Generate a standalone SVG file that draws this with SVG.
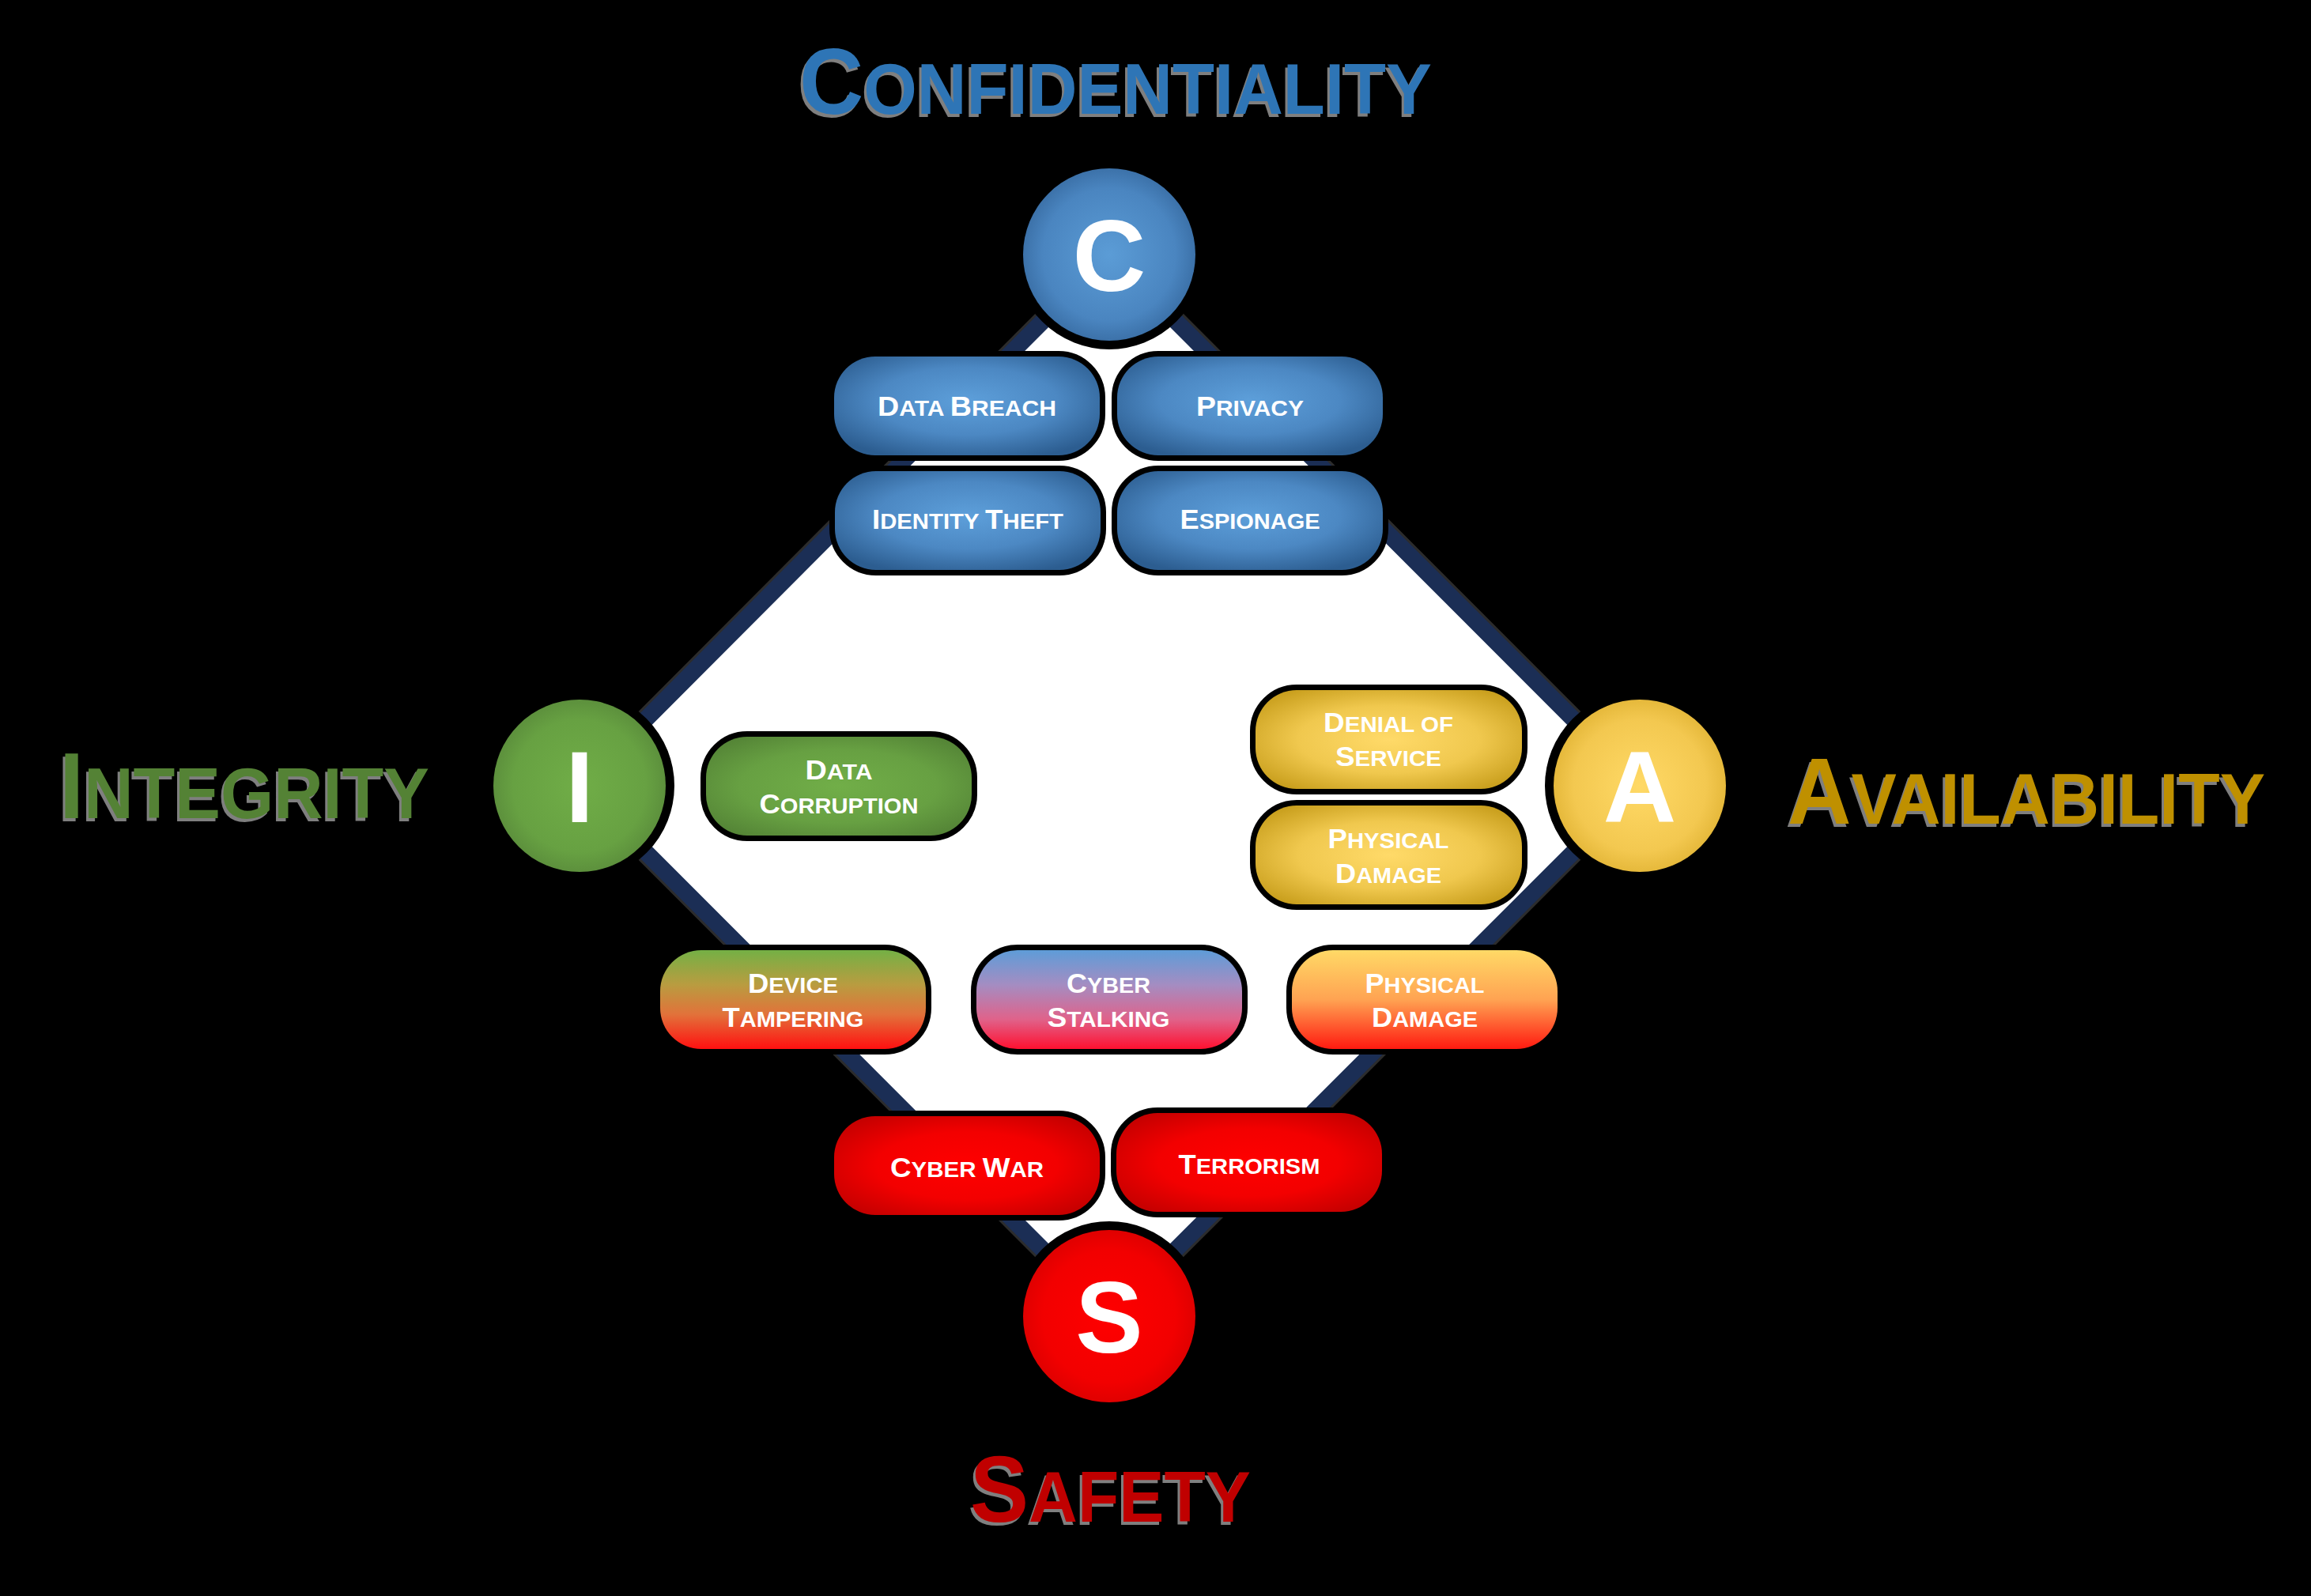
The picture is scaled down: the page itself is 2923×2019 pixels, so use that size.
<svg xmlns="http://www.w3.org/2000/svg" width="2923" height="2019" viewBox="0 0 2923 2019">
<defs>
  <radialGradient id="gBlue" cx="0.5" cy="0.45" r="0.62">
    <stop offset="0" stop-color="#5d9fda"/>
    <stop offset="0.55" stop-color="#4c88c3"/>
    <stop offset="1" stop-color="#2c5d90"/>
  </radialGradient>
  <radialGradient id="gBlueC" cx="0.5" cy="0.5" r="0.55">
    <stop offset="0" stop-color="#5b9cd6"/>
    <stop offset="0.7" stop-color="#4a85c0"/>
    <stop offset="1" stop-color="#36699f"/>
  </radialGradient>
  <radialGradient id="gGreen" cx="0.5" cy="0.5" r="0.62">
    <stop offset="0" stop-color="#71ae48"/>
    <stop offset="0.6" stop-color="#67a042"/>
    <stop offset="1" stop-color="#548436"/>
  </radialGradient>
  <radialGradient id="gGreenC" cx="0.5" cy="0.5" r="0.55">
    <stop offset="0" stop-color="#70ad47"/>
    <stop offset="0.7" stop-color="#67a142"/>
    <stop offset="1" stop-color="#58893a"/>
  </radialGradient>
  <radialGradient id="gGold" cx="0.5" cy="0.5" r="0.62">
    <stop offset="0" stop-color="#ffda69"/>
    <stop offset="0.55" stop-color="#f0c84e"/>
    <stop offset="1" stop-color="#c89e1c"/>
  </radialGradient>
  <radialGradient id="gGoldC" cx="0.5" cy="0.5" r="0.55">
    <stop offset="0" stop-color="#ffd966"/>
    <stop offset="0.7" stop-color="#f3c850"/>
    <stop offset="1" stop-color="#e0b232"/>
  </radialGradient>
  <radialGradient id="gRed" cx="0.5" cy="0.5" r="0.62">
    <stop offset="0" stop-color="#ff0000"/>
    <stop offset="0.55" stop-color="#f30000"/>
    <stop offset="1" stop-color="#c40000"/>
  </radialGradient>
  <radialGradient id="gRedC" cx="0.5" cy="0.5" r="0.55">
    <stop offset="0" stop-color="#ff0000"/>
    <stop offset="0.7" stop-color="#f20000"/>
    <stop offset="1" stop-color="#d80000"/>
  </radialGradient>
  <linearGradient id="gDevice" x1="0" y1="0" x2="0" y2="1">
    <stop offset="0" stop-color="#74b045"/>
    <stop offset="0.35" stop-color="#b99c40"/>
    <stop offset="0.65" stop-color="#e2723a"/>
    <stop offset="1" stop-color="#ff1010"/>
  </linearGradient>
  <linearGradient id="gStalk" x1="0" y1="0" x2="0" y2="1">
    <stop offset="0" stop-color="#5e9cd8"/>
    <stop offset="0.35" stop-color="#a48dc2"/>
    <stop offset="0.7" stop-color="#e0628a"/>
    <stop offset="1" stop-color="#ff1030"/>
  </linearGradient>
  <linearGradient id="gPhys" x1="0" y1="0" x2="0" y2="1">
    <stop offset="0" stop-color="#ffd966"/>
    <stop offset="0.5" stop-color="#ffa352"/>
    <stop offset="1" stop-color="#ff1a10"/>
  </linearGradient>
  <style>
    text { font-family: "Liberation Sans", Arial, sans-serif; font-weight: bold; }
    .pill { stroke: #000; stroke-width: 14; paint-order: stroke; }
    .ring { stroke: #000; stroke-width: 22; paint-order: stroke; }
    .lbl { fill: #fff; text-anchor: middle; }
    .b { font-size: 35px; }
    .s { font-size: 28px; }
    .letter { fill: #fff; font-size: 128px; text-anchor: middle; }
    .tb { font-size: 118px; }
    .ts { font-size: 91px; }
    .shadow { fill: #7f7f7f; }
  </style>
</defs>

<rect x="0" y="0" width="2923" height="2019" fill="#000"/>

<g id="connectors">
  <polygon points="1403,322 2074,994 1403,1665 733,994" fill="none" stroke="#2c2c2c" stroke-width="27"/>
  <polygon points="1403,322 2074,994 1403,1665 733,994" fill="#fff" stroke="#1b2e55" stroke-width="21"/>
</g>

<g id="title-confidentiality">
  <text class="shadow" x="1008" y="148" textLength="800" lengthAdjust="spacingAndGlyphs"><tspan class="tb">C</tspan><tspan class="ts">ONFIDENTIALITY</tspan></text>
  <text x="1011" y="144" fill="#2e75b6" textLength="800" lengthAdjust="spacingAndGlyphs"><tspan class="tb">C</tspan><tspan class="ts">ONFIDENTIALITY</tspan></text>
</g>
<g id="title-integrity">
  <text class="shadow" x="72" y="1039" textLength="468" lengthAdjust="spacingAndGlyphs"><tspan class="tb">I</tspan><tspan class="ts">NTEGRITY</tspan></text>
  <text x="75" y="1035" fill="#548235" textLength="468" lengthAdjust="spacingAndGlyphs"><tspan class="tb">I</tspan><tspan class="ts">NTEGRITY</tspan></text>
</g>
<g id="title-availability">
  <text class="shadow" x="2258" y="1046" textLength="604" lengthAdjust="spacingAndGlyphs"><tspan class="tb">A</tspan><tspan class="ts">VAILABILITY</tspan></text>
  <text x="2261" y="1042" fill="#bf9000" textLength="604" lengthAdjust="spacingAndGlyphs"><tspan class="tb">A</tspan><tspan class="ts">VAILABILITY</tspan></text>
</g>
<g id="title-safety">
  <text class="shadow" x="1224" y="1929" textLength="355" lengthAdjust="spacingAndGlyphs"><tspan class="tb">S</tspan><tspan class="ts">AFETY</tspan></text>
  <text x="1227" y="1925" fill="#c00000" textLength="355" lengthAdjust="spacingAndGlyphs"><tspan class="tb">S</tspan><tspan class="ts">AFETY</tspan></text>
</g>

<g id="node-c">
  <circle class="ring" cx="1403" cy="322" r="109" fill="url(#gBlueC)"/>
  <text class="letter" x="1403" y="368">C</text>
</g>
<g id="node-i">
  <circle class="ring" cx="733" cy="994" r="109" fill="url(#gGreenC)"/>
  <text class="letter" x="733" y="1040">I</text>
</g>
<g id="node-a">
  <circle class="ring" cx="2074" cy="994" r="109" fill="url(#gGoldC)"/>
  <text class="letter" x="2074" y="1040">A</text>
</g>
<g id="node-s">
  <circle class="ring" cx="1403" cy="1665" r="109" fill="url(#gRedC)"/>
  <text class="letter" x="1403" y="1711">S</text>
</g>

<g id="data-breach">
  <rect class="pill" x="1055" y="451" width="336" height="125" rx="52" fill="url(#gBlue)"/>
  <text class="lbl" x="1223" y="526" textLength="226" lengthAdjust="spacingAndGlyphs"><tspan class="b">D</tspan><tspan class="s">ATA </tspan><tspan class="b">B</tspan><tspan class="s">REACH</tspan></text>
</g>
<g id="privacy">
  <rect class="pill" x="1413" y="451" width="336" height="125" rx="52" fill="url(#gBlue)"/>
  <text class="lbl" x="1581" y="526" textLength="136" lengthAdjust="spacingAndGlyphs"><tspan class="b">P</tspan><tspan class="s">RIVACY</tspan></text>
</g>
<g id="identity-theft">
  <rect class="pill" x="1056" y="596" width="336" height="125" rx="52" fill="url(#gBlue)"/>
  <text class="lbl" x="1224" y="669" textLength="242" lengthAdjust="spacingAndGlyphs"><tspan class="b">I</tspan><tspan class="s">DENTITY </tspan><tspan class="b">T</tspan><tspan class="s">HEFT</tspan></text>
</g>
<g id="espionage">
  <rect class="pill" x="1413" y="596" width="336" height="125" rx="52" fill="url(#gBlue)"/>
  <text class="lbl" x="1581" y="669" textLength="177" lengthAdjust="spacingAndGlyphs"><tspan class="b">E</tspan><tspan class="s">SPIONAGE</tspan></text>
</g>

<g id="data-corruption">
  <rect class="pill" x="893" y="932" width="336" height="125" rx="52" fill="url(#gGreen)"/>
  <text class="lbl" x="1061" y="986" textLength="85" lengthAdjust="spacingAndGlyphs"><tspan class="b">D</tspan><tspan class="s">ATA</tspan></text>
  <text class="lbl" x="1061" y="1029" textLength="201" lengthAdjust="spacingAndGlyphs"><tspan class="b">C</tspan><tspan class="s">ORRUPTION</tspan></text>
</g>

<g id="denial-of-service">
  <rect class="pill" x="1588" y="873" width="337" height="125" rx="52" fill="url(#gGold)"/>
  <text class="lbl" x="1756" y="926" textLength="164" lengthAdjust="spacingAndGlyphs"><tspan class="b">D</tspan><tspan class="s">ENIAL OF</tspan></text>
  <text class="lbl" x="1756" y="969" textLength="134" lengthAdjust="spacingAndGlyphs"><tspan class="b">S</tspan><tspan class="s">ERVICE</tspan></text>
</g>
<g id="physical-damage-a">
  <rect class="pill" x="1588" y="1019" width="337" height="125" rx="52" fill="url(#gGold)"/>
  <text class="lbl" x="1756" y="1073" textLength="153" lengthAdjust="spacingAndGlyphs"><tspan class="b">P</tspan><tspan class="s">HYSICAL</tspan></text>
  <text class="lbl" x="1756" y="1117" textLength="134" lengthAdjust="spacingAndGlyphs"><tspan class="b">D</tspan><tspan class="s">AMAGE</tspan></text>
</g>

<g id="device-tampering">
  <rect class="pill" x="835" y="1202" width="336" height="125" rx="52" fill="url(#gDevice)"/>
  <text class="lbl" x="1003" y="1256" textLength="114" lengthAdjust="spacingAndGlyphs"><tspan class="b">D</tspan><tspan class="s">EVICE</tspan></text>
  <text class="lbl" x="1003" y="1299" textLength="179" lengthAdjust="spacingAndGlyphs"><tspan class="b">T</tspan><tspan class="s">AMPERING</tspan></text>
</g>
<g id="cyber-stalking">
  <rect class="pill" x="1235" y="1202" width="336" height="125" rx="52" fill="url(#gStalk)"/>
  <text class="lbl" x="1402" y="1256" textLength="106" lengthAdjust="spacingAndGlyphs"><tspan class="b">C</tspan><tspan class="s">YBER</tspan></text>
  <text class="lbl" x="1402" y="1299" textLength="155" lengthAdjust="spacingAndGlyphs"><tspan class="b">S</tspan><tspan class="s">TALKING</tspan></text>
</g>
<g id="physical-damage-s">
  <rect class="pill" x="1634" y="1202" width="336" height="125" rx="52" fill="url(#gPhys)"/>
  <text class="lbl" x="1802" y="1256" textLength="151" lengthAdjust="spacingAndGlyphs"><tspan class="b">P</tspan><tspan class="s">HYSICAL</tspan></text>
  <text class="lbl" x="1802" y="1299" textLength="134" lengthAdjust="spacingAndGlyphs"><tspan class="b">D</tspan><tspan class="s">AMAGE</tspan></text>
</g>

<g id="cyber-war">
  <rect class="pill" x="1055" y="1412" width="336" height="125" rx="52" fill="url(#gRed)"/>
  <text class="lbl" x="1223" y="1489" textLength="194" lengthAdjust="spacingAndGlyphs"><tspan class="b">C</tspan><tspan class="s">YBER </tspan><tspan class="b">W</tspan><tspan class="s">AR</tspan></text>
</g>
<g id="terrorism">
  <rect class="pill" x="1412" y="1408" width="336" height="125" rx="52" fill="url(#gRed)"/>
  <text class="lbl" x="1580" y="1485" textLength="179" lengthAdjust="spacingAndGlyphs"><tspan class="b">T</tspan><tspan class="s">ERRORISM</tspan></text>
</g>
</svg>
